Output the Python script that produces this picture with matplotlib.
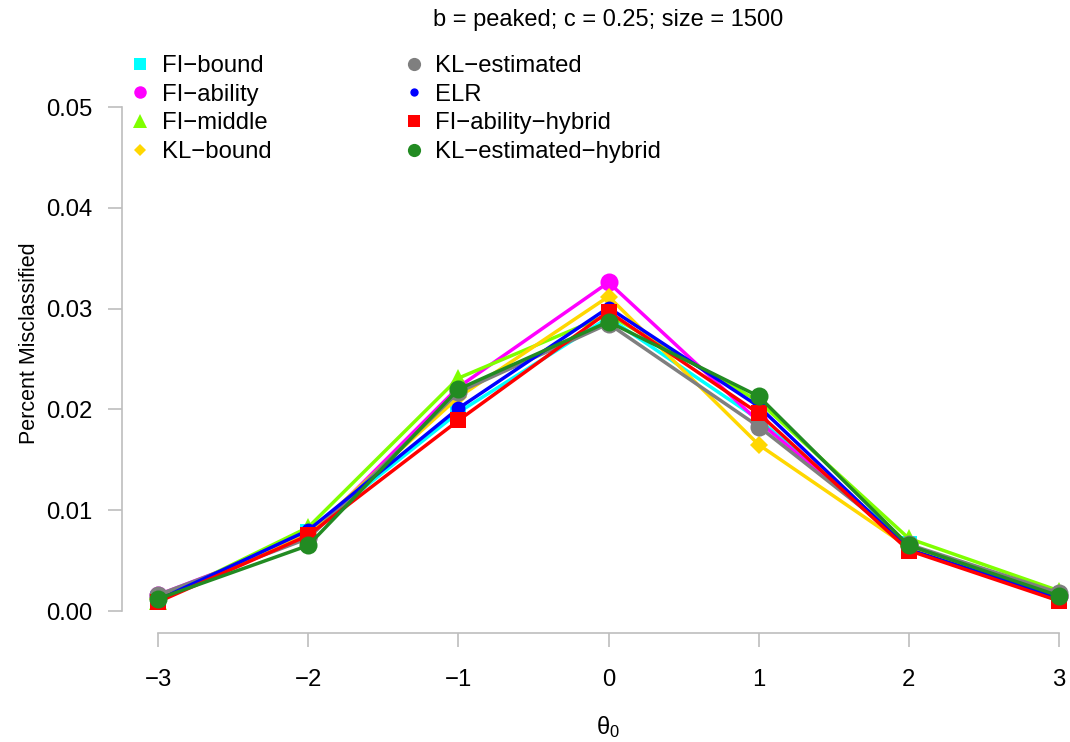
import matplotlib
matplotlib.use("Agg")
import matplotlib.pyplot as plt
from matplotlib.lines import Line2D

plt.rcParams['font.family'] = ['Liberation Sans', 'DejaVu Sans']
plt.rcParams['mathtext.fontset'] = 'custom'
plt.rcParams['mathtext.rm'] = 'Liberation Sans'
plt.rcParams['mathtext.it'] = 'Liberation Sans'

theta = [-3, -2, -1, 0, 1, 2, 3]
series_names = ["FI\u2212bound", "FI\u2212ability", "FI\u2212middle", "KL\u2212bound",
                "KL\u2212estimated", "ELR", "FI\u2212ability\u2212hybrid", "KL\u2212estimated\u2212hybrid"]
fi_bound = [0.0012, 0.0078, 0.0197, 0.0291, 0.0190, 0.0066, 0.0010]
fi_ability = [0.0016, 0.0073, 0.0222, 0.0326, 0.0188, 0.0064, 0.0015]
fi_middle = [0.0010, 0.0083, 0.0231, 0.0294, 0.0208, 0.0072, 0.0020]
kl_bound = [0.0012, 0.0077, 0.0212, 0.0312, 0.0165, 0.0063, 0.0015]
kl_estimated = [0.0016, 0.0072, 0.0217, 0.0285, 0.0183, 0.0066, 0.0018]
elr = [0.0011, 0.0080, 0.0201, 0.0301, 0.0203, 0.0061, 0.0013]
fi_ability_hybrid = [0.0009, 0.0075, 0.0189, 0.0297, 0.0196, 0.0060, 0.0010]
kl_estimated_hybrid = [0.0012, 0.0065, 0.0220, 0.0287, 0.0213, 0.0065, 0.0015]
yticks = [0.00, 0.01, 0.02, 0.03, 0.04, 0.05]

all_series = [fi_bound, fi_ability, fi_middle, kl_bound, kl_estimated, elr,
              fi_ability_hybrid, kl_estimated_hybrid]
colors = ["#00FFFF", "#FF00FF", "#7FFF00", "#FFD700", "#7F7F7F", "#0000FF", "#FF0000", "#228B22"]
markers = ["s", "o", "^", "D", "o", "o", "s", "o"]
msizes = [12, 13, 13, 9, 13, 10, 12, 13]
leg_sizes = [8, 9, 10, 6, 9.5, 6, 8, 9.5]

fig = plt.figure(figsize=(10.70, 7.42), dpi=100)
ax = fig.add_axes([158/1070, 131/742, 901/1070, 504/742])

for vals, c, m, ms in zip(all_series, colors, markers, msizes):
    ax.plot(theta, vals, color=c, lw=2.5, marker=m, markersize=ms,
            markeredgewidth=0, clip_on=False, solid_joinstyle='miter')

ax.set_xlim(-3, 3)
ax.set_ylim(0, 0.05)
ax.set_xticks(theta)
ax.set_yticks(yticks)
ax.set_yticklabels([f"{v:.2f}" for v in yticks])
ax.set_xticklabels([str(t).replace('-', '\u2212') for t in theta])

for s in ['top', 'right']:
    ax.spines[s].set_visible(False)
ax.spines['left'].set_position(('outward', 25.9))
ax.spines['bottom'].set_position(('outward', 15.8))
ax.spines['left'].set_bounds(0, 0.05)
ax.spines['bottom'].set_bounds(-3, 3)
for s in ['left', 'bottom']:
    ax.spines[s].set_color('#BEBEBE')
    ax.spines[s].set_linewidth(1.2)
ax.tick_params(axis='both', colors='#BEBEBE', labelcolor='black', length=10, width=1.2,
               labelsize=17.2)
ax.tick_params(axis='y', pad=11)
ax.tick_params(axis='x', pad=16)

fig.text(608/1070, 1 - 20/742, "b = peaked; c = 0.25; size = 1500", ha='center', va='center',
         fontsize=17)
fig.text(608/1070, 1 - 740/742, r"$\theta_0$", ha='center', va='bottom', fontsize=17)
fig.text(30/1070, 1 - 343/742, "Percent Misclassified", ha='center', va='center',
         rotation=90, fontsize=15.5)

handles = [Line2D([], [], ls='none', marker=m, color=c, markersize=s, markeredgewidth=0)
           for m, c, s in zip(markers, colors, leg_sizes)]
leg = fig.legend(handles, series_names, ncol=2, frameon=False, loc='upper left',
                 bbox_to_anchor=(132/1070, 1 - 55/742), fontsize=17.2, handlelength=0.7,
                 handletextpad=0.55, labelspacing=0.28, columnspacing=5.6,
                 borderaxespad=0, borderpad=0)

fig.savefig("out.png", dpi=100)
